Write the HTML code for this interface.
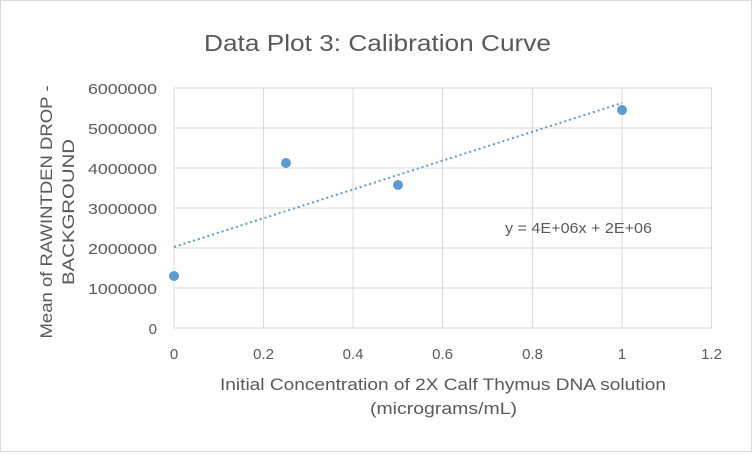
<!DOCTYPE html>
<html><head><style>
body{margin:0;background:#fff;}
svg text{font-family:"Liberation Sans",sans-serif;fill:#595959;}
</style></head><body>
<svg width="752" height="452" viewBox="0 0 752 452" xmlns="http://www.w3.org/2000/svg">
<rect x="0.5" y="0.5" width="751" height="451" fill="#fff" stroke="#d9d9d9"/>
<text x="204" y="51" font-size="23" textLength="347" lengthAdjust="spacingAndGlyphs">Data Plot 3: Calibration Curve</text>
<g stroke="#d9d9d9" stroke-width="1">
<line x1="174" y1="88" x2="712" y2="88"/>
<line x1="174" y1="128" x2="712" y2="128"/>
<line x1="174" y1="168" x2="712" y2="168"/>
<line x1="174" y1="208" x2="712" y2="208"/>
<line x1="174" y1="248" x2="712" y2="248"/>
<line x1="174" y1="288" x2="712" y2="288"/>
<line x1="263.5" y1="88" x2="263.5" y2="328"/>
<line x1="353" y1="88" x2="353" y2="328"/>
<line x1="442.5" y1="88" x2="442.5" y2="328"/>
<line x1="532.5" y1="88" x2="532.5" y2="328"/>
<line x1="622" y1="88" x2="622" y2="328"/>
<line x1="711.5" y1="88" x2="711.5" y2="328"/>
<line x1="174" y1="328" x2="712" y2="328"/>
<line x1="174" y1="88" x2="174" y2="328"/>
</g>
<g font-size="15" text-anchor="end">
<text x="157" y="94" textLength="69" lengthAdjust="spacingAndGlyphs">6000000</text>
<text x="157" y="134" textLength="69" lengthAdjust="spacingAndGlyphs">5000000</text>
<text x="157" y="174" textLength="69" lengthAdjust="spacingAndGlyphs">4000000</text>
<text x="157" y="214" textLength="69" lengthAdjust="spacingAndGlyphs">3000000</text>
<text x="157" y="254" textLength="69" lengthAdjust="spacingAndGlyphs">2000000</text>
<text x="157" y="294" textLength="69" lengthAdjust="spacingAndGlyphs">1000000</text>
<text x="157" y="334">0</text>
</g>
<g font-size="15" text-anchor="middle">
<text x="174" y="359">0</text>
<text x="263.5" y="359">0.2</text>
<text x="353" y="359">0.4</text>
<text x="442.5" y="359">0.6</text>
<text x="532.5" y="359">0.8</text>
<text x="622" y="359">1</text>
<text x="711.5" y="359">1.2</text>
</g>
<text x="220" y="390" font-size="17" textLength="446" lengthAdjust="spacingAndGlyphs">Initial Concentration of 2X Calf Thymus DNA solution</text>
<text x="370" y="414" font-size="17" textLength="147" lengthAdjust="spacingAndGlyphs">(micrograms/mL)</text>
<g transform="translate(52,212) rotate(-90)" font-size="17" text-anchor="middle">
<text x="0" y="0" textLength="253" lengthAdjust="spacingAndGlyphs">Mean of RAWINTDEN DROP -</text>
<text x="0" y="22" textLength="146" lengthAdjust="spacingAndGlyphs">BACKGROUND</text>
</g>
<line x1="174" y1="247" x2="622" y2="103" stroke="#5b9bd5" stroke-width="2" stroke-dasharray="2,3"/>
<g fill="#5b9bd5">
<circle cx="174" cy="276" r="5"/>
<circle cx="286" cy="163" r="5"/>
<circle cx="398" cy="185" r="5"/>
<circle cx="622" cy="110" r="5"/>
</g>
<text x="505" y="233" font-size="15" textLength="147" lengthAdjust="spacingAndGlyphs">y = 4E+06x + 2E+06</text>
</svg>
</body></html>
